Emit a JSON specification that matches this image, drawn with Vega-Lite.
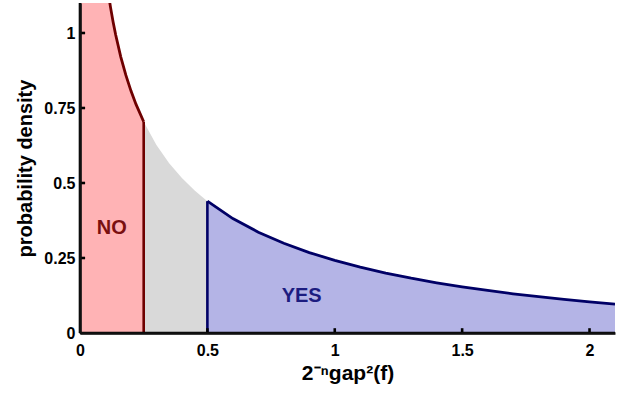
{
  "$schema": "https://vega.github.io/schema/vega-lite/v6.json",
  "autosize": {"type": "none"},
  "padding": {"left": 80, "top": 3, "right": 9, "bottom": 63},
  "width": 535,
  "height": 330,
  "config": {"font": "Liberation Sans", "view": {"strokeWidth": 0}},
  "datasets": {
    "curve": [
      {"x": 0.001, "y": 12.609, "region": "NO"},
      {"x": 0.005, "y": 5.628, "region": "NO"},
      {"x": 0.01, "y": 3.970, "region": "NO"},
      {"x": 0.02, "y": 2.793, "region": "NO"},
      {"x": 0.03, "y": 2.269, "region": "NO"},
      {"x": 0.05, "y": 1.740, "region": "NO"},
      {"x": 0.065, "y": 1.5148, "region": "NO"},
      {"x": 0.08, "y": 1.3552, "region": "NO"},
      {"x": 0.09, "y": 1.2713, "region": "NO"},
      {"x": 0.1, "y": 1.2000, "region": "NO"},
      {"x": 0.11, "y": 1.1385, "region": "NO"},
      {"x": 0.12, "y": 1.0846, "region": "NO"},
      {"x": 0.13, "y": 1.0368, "region": "NO"},
      {"x": 0.14, "y": 0.99415, "region": "NO"},
      {"x": 0.16, "y": 0.92069, "region": "NO"},
      {"x": 0.18, "y": 0.85939, "region": "NO"},
      {"x": 0.2, "y": 0.80718, "region": "NO"},
      {"x": 0.22, "y": 0.76195, "region": "NO"},
      {"x": 0.25, "y": 0.70413, "region": "NO"},
      {"x": 0.25, "y": 0.70413, "region": "GAP"},
      {"x": 0.3, "y": 0.62692, "region": "GAP"},
      {"x": 0.35, "y": 0.56609, "region": "GAP"},
      {"x": 0.4, "y": 0.51645, "region": "GAP"},
      {"x": 0.45, "y": 0.47489, "region": "GAP"},
      {"x": 0.5, "y": 0.43939, "region": "GAP"},
      {"x": 0.5, "y": 0.43939, "region": "YES"},
      {"x": 0.6, "y": 0.38155, "region": "YES"},
      {"x": 0.7, "y": 0.33602, "region": "YES"},
      {"x": 0.8, "y": 0.29898, "region": "YES"},
      {"x": 0.9, "y": 0.26814, "region": "YES"},
      {"x": 1.0, "y": 0.24197, "region": "YES"},
      {"x": 1.1, "y": 0.21946, "region": "YES"},
      {"x": 1.2, "y": 0.19987, "region": "YES"},
      {"x": 1.3, "y": 0.18266, "region": "YES"},
      {"x": 1.4, "y": 0.16743, "region": "YES"},
      {"x": 1.5, "y": 0.15387, "region": "YES"},
      {"x": 1.6, "y": 0.14172, "region": "YES"},
      {"x": 1.7, "y": 0.13078, "region": "YES"},
      {"x": 1.8, "y": 0.12090, "region": "YES"},
      {"x": 1.9, "y": 0.11193, "region": "YES"},
      {"x": 2.0, "y": 0.10378, "region": "YES"},
      {"x": 2.1, "y": 0.09634, "region": "YES"}
    ],
    "segments": [
      {"x": 0.25, "x2": 0.25, "y": 0, "y2": 0.70413, "region": "NO"},
      {"x": 0.5, "x2": 0.5, "y": 0, "y2": 0.43939, "region": "YES"},
      {"x": 0, "x2": 2.1, "y": 0, "y2": 0, "region": "AXIS"},
      {"x": 0, "x2": 0, "y": 0, "y2": 1.1, "region": "AXIS"},
      {"x": 0.5, "x2": 0.5, "y": 0, "y2": 0.016, "region": "AXIS"},
      {"x": 1, "x2": 1, "y": 0, "y2": 0.016, "region": "AXIS"},
      {"x": 1.5, "x2": 1.5, "y": 0, "y2": 0.016, "region": "AXIS"},
      {"x": 2, "x2": 2, "y": 0, "y2": 0.016, "region": "AXIS"},
      {"x": 0, "x2": 0.02, "y": 0.25, "y2": 0.25, "region": "AXIS"},
      {"x": 0, "x2": 0.02, "y": 0.5, "y2": 0.5, "region": "AXIS"},
      {"x": 0, "x2": 0.02, "y": 0.75, "y2": 0.75, "region": "AXIS"},
      {"x": 0, "x2": 0.02, "y": 1, "y2": 1, "region": "AXIS"}
    ],
    "labels": [
      {"x": 0.125, "y": 0.35, "label": "NO", "region": "NO"},
      {"x": 0.87, "y": 0.123, "label": "YES", "region": "YES"}
    ]
  },
  "layer": [
    {
      "data": {"name": "curve"},
      "mark": {"type": "area", "clip": true, "opacity": 1},
      "encoding": {
        "x": {"field": "x", "type": "quantitative",
              "scale": {"domain": [0, 2.1], "nice": false, "zero": false},
              "axis": {"values": [0, 0.5, 1, 1.5, 2], "format": "~g", "zindex": 1,
                       "title": "2⁻ⁿgap²(f)", "grid": false, "domain": true,
                       "domainColor": "#111111", "domainWidth": 2.5,
                       "ticks": false, "tickSize": 0, "labelFlush": false,
                       "labelPadding": 9, "labelFont": "Liberation Sans", "labelFontWeight": "bold",
                       "labelFontSize": 16, "labelColor": "black",
                       "titleFont": "Liberation Sans", "titleFontWeight": "bold", "titleFontSize": 21,
                       "titleColor": "black", "titlePadding": 4}},
        "y": {"field": "y", "type": "quantitative", "stack": null,
              "scale": {"domain": [0, 1.1], "nice": false, "zero": false},
              "axis": {"values": [0, 0.25, 0.5, 0.75, 1], "format": ".2~f", "zindex": 1,
                       "title": "probability density", "grid": false, "domain": true,
                       "domainColor": "#111111", "domainWidth": 2.5,
                       "ticks": false, "tickSize": 0, "labelFlush": false,
                       "labelPadding": 5, "labelFont": "Liberation Sans", "labelFontWeight": "bold",
                       "labelFontSize": 16, "labelColor": "black",
                       "titleFont": "Liberation Sans", "titleFontWeight": "bold", "titleFontSize": 20,
                       "titleColor": "black", "titlePadding": 8}},
        "color": {"field": "region", "type": "nominal", "legend": null,
                  "scale": {"domain": ["NO", "GAP", "YES"], "range": ["#ffb3b5", "#d9d9d9", "#b4b4e6"]}}
      }
    },
    {
      "data": {"name": "curve"},
      "transform": [{"filter": "datum.region !== 'GAP'"}],
      "mark": {"type": "line", "clip": true, "strokeWidth": 2.8},
      "encoding": {
        "x": {"field": "x", "type": "quantitative"},
        "y": {"field": "y", "type": "quantitative"},
        "stroke": {"field": "region", "type": "nominal", "legend": null,
                  "scale": {"domain": ["NO", "YES", "AXIS"], "range": ["#6e0000", "#000066", "#000000"]}}
      }
    },
    {
      "data": {"name": "segments"},
      "mark": {"type": "rule", "strokeWidth": 2.6},
      "encoding": {
        "x": {"field": "x", "type": "quantitative"},
        "x2": {"field": "x2"},
        "y": {"field": "y", "type": "quantitative"},
        "y2": {"field": "y2"},
        "stroke": {"field": "region", "type": "nominal", "legend": null}
      }
    },
    {
      "data": {"name": "labels"},
      "mark": {"type": "text", "font": "Liberation Sans", "fontWeight": "bold", "fontSize": 20},
      "encoding": {
        "x": {"field": "x", "type": "quantitative"},
        "y": {"field": "y", "type": "quantitative"},
        "text": {"field": "label", "type": "nominal"},
        "fill": {"field": "region", "type": "nominal", "legend": null,
                 "scale": {"domain": ["NO", "YES"], "range": ["#7a1010", "#1c1c80"]}}
      }
    }
  ],
  "resolve": {"scale": {"color": "independent", "fill": "independent"}}
}
